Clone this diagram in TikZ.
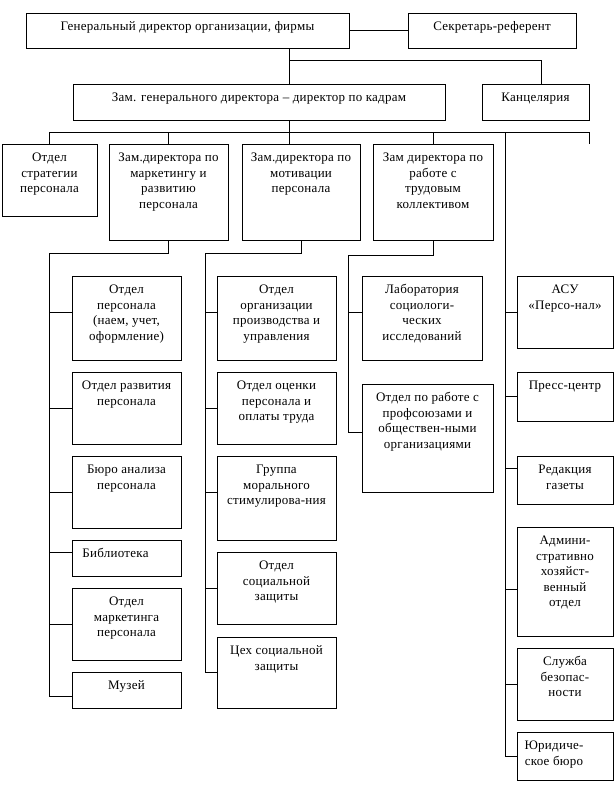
\documentclass[tikz,border=0pt]{standalone}
\usepackage{fontspec}
\setmainfont{Liberation Serif}[LetterSpace=2]
\tikzset{
  box/.style={draw, line width=1pt, inner sep=0pt, outer sep=0pt, rectangle},
  txt/.style={anchor=north, align=center, inner sep=0pt, outer sep=0pt,
    font=\fontsize{13}{15.6}\selectfont},
  conn/.style={line width=1pt},
}
\newcommand\obox[7][0]{%
  \node[box, minimum width={(#5)-(#3)}, minimum height={(#6)-(#4)}] (#2)
    at ({((#3)+(#5))/2},{((#4)+(#6))/2}) {};
  \node[txt, xshift=#1pt] (#2t) at ({((#3)+(#5))/2},{(#4)+6.6}) {\strut #7};
}
\newcommand\otick[3]{%
  \coordinate (#1s) at (#2,#3);
  \draw[conn] (#1s) -- (#1.west |- #1s);
}
\begin{document}
\begin{tikzpicture}[x=1pt,y=-1pt]
\useasboundingbox (0,0) rectangle (614,793);
% top
\obox{gen}{26}{13}{349}{48}{Генеральный директор организации, фирмы}
\obox{sec}{408}{13}{576}{48}{Секретарь-референт}
\obox{zam}{73}{84}{445}{120}{Зам. генерального директора – директор по кадрам}
\obox{kanc}{482}{84}{589}{120}{Канцелярия}
% second row
\obox{strat}{2}{144}{97}{216}{Отдел\\стратегии\\персонала}
\obox{mark}{109}{144}{228}{240}{Зам.директора по\\маркетингу и\\развитию\\персонала}
\obox{motiv}{242}{144}{360}{240}{Зам.директора по\\мотивации\\персонала}
\obox{trud}{373}{144}{493}{240}{Зам директора по\\работе с\\трудовым\\коллективом}
% column 1
\obox{c1a}{72}{276}{181}{360}{Отдел\\персонала\\(наем, учет,\\оформление)}
\obox{c1b}{72}{372}{181}{444}{Отдел развития\\персонала}
\obox{c1c}{72}{456}{181}{528}{Бюро анализа\\персонала}
\obox[-11]{c1d}{72}{540}{181}{576}{Библиотека}
\obox{c1e}{72}{588}{181}{660}{Отдел\\маркетинга\\персонала}
\obox{c1f}{72}{672}{181}{708}{Музей}
% column 2
\obox{c2a}{217}{276}{336}{360}{Отдел\\организации\\производства и\\управления}
\obox{c2b}{217}{372}{336}{444}{Отдел оценки\\персонала и\\оплаты труда}
\obox{c2c}{217}{456}{336}{540}{Группа\\морального\\стимулирова-ния}
\obox{c2d}{217}{552}{336}{624}{Отдел\\социальной\\защиты}
\obox{c2e}{217}{637}{336}{708}{Цех социальной\\защиты}
% column 3
\obox{c3a}{362}{276}{482}{360}{Лаборатория\\социологи-\\ческих\\исследований}
\obox{c3b}{362}{384}{493}{492}{Отдел по работе с\\профсоюзами и\\обществен-ными\\организациями}
% column 4
\obox{c4a}{517}{276}{613}{348}{АСУ\\«Персо-нал»}
\obox{c4b}{517}{372}{613}{421}{Пресс-центр}
\obox{c4c}{517}{456}{613}{504}{Редакция\\газеты}
\obox{c4d}{517}{527}{613}{636}{Админи-\\стративно\\хозяйст-\\венный\\отдел}
\obox{c4e}{517}{648}{613}{720}{Служба\\безопас-\\ности}
\obox[-11]{c4f}{517}{732}{613}{780}{Юридиче-\\ское бюро}
% top connectors
\coordinate (j1) at (289,60);
\coordinate (j2) at (541,60);
\draw[conn] (gen.east) -- (sec.west);
\draw[conn] (gen.south -| j1) -- (zam.north -| j1);
\draw[conn] (j1) -- (j2) -- (kanc.north -| j2);
\coordinate (b0) at (289,132);
\coordinate (bl) at (49,132);
\coordinate (br) at (589,132);
\coordinate (tickend) at (589,144);
\draw[conn] (zam.south -| b0) -- (b0);
\draw[conn] (bl) -- (br) -- (tickend);
\draw[conn] (bl) -- (strat.north -| bl);
\draw[conn] (mark.north) -- (mark.north |- b0);
\draw[conn] (motiv.north -| b0) -- (b0);
\draw[conn] (trud.north) -- (trud.north |- b0);
% column 1
\coordinate (k1) at (49,253);
\otick{c1a}{49}{312}
\otick{c1b}{49}{408}
\otick{c1c}{49}{492}
\otick{c1d}{49}{552}
\otick{c1e}{49}{624}
\otick{c1f}{49}{696}
\draw[conn] (mark.south) -- (mark.south |- k1) -- (k1) -- (c1fs);
% column 2
\coordinate (k2) at (205,253);
\otick{c2a}{205}{312}
\otick{c2b}{205}{408}
\otick{c2c}{205}{492}
\otick{c2d}{205}{588}
\otick{c2e}{205}{672}
\draw[conn] (motiv.south) -- (motiv.south |- k2) -- (k2) -- (c2es);
% column 3
\coordinate (k3) at (348,255);
\otick{c3a}{348}{312}
\otick{c3b}{348}{432}
\draw[conn] (trud.south) -- (trud.south |- k3) -- (k3) -- (c3bs);
% column 4
\coordinate (r0) at (505,132);
\otick{c4a}{505}{312}
\otick{c4b}{505}{396}
\otick{c4c}{505}{468}
\otick{c4d}{505}{589}
\otick{c4e}{505}{684}
\otick{c4f}{505}{756}
\draw[conn] (r0) -- (c4fs);
\end{tikzpicture}
\end{document}
